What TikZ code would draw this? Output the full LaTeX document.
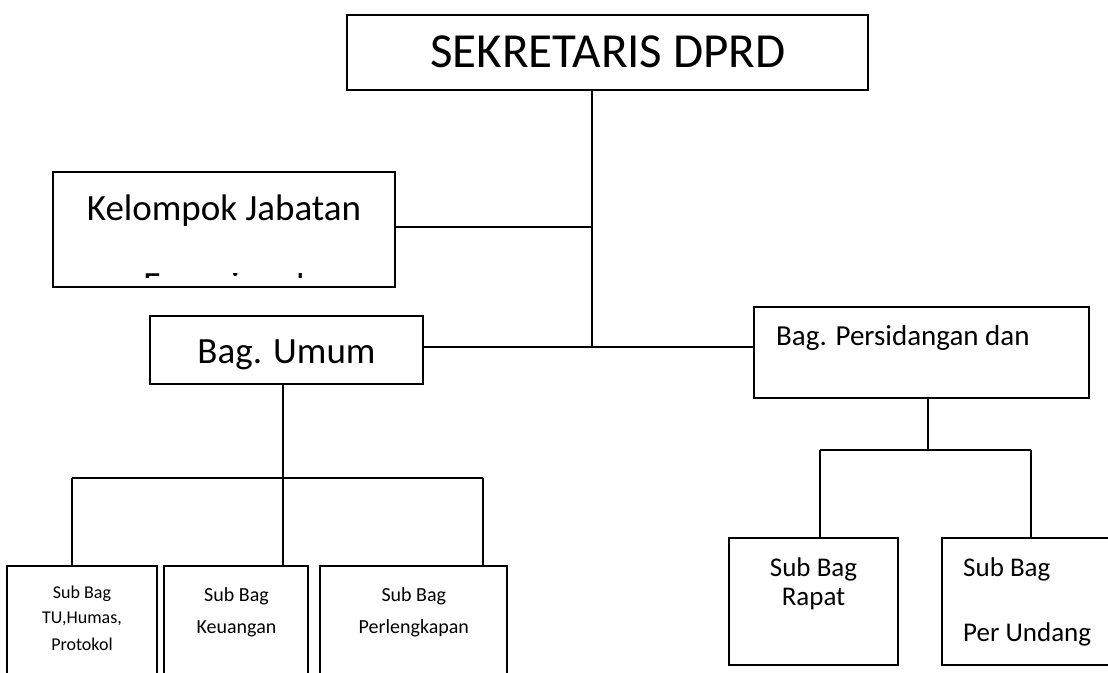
\documentclass[tikz,border=0pt]{standalone}
\usepackage{fontspec}
\setmainfont{Carlito}
\tikzset{
  box/.style={draw=black, line width=1.8pt, inner sep=0pt, fill=none},
  conn/.style={draw=black, line width=1.4pt},
  txt/.style={inner sep=0pt, anchor=base, text=black},
}
\newcommand{\fsz}[1]{\fontsize{#1}{#1}\selectfont}
\begin{document}
\begin{tikzpicture}[x=1pt, y=-1pt]
\useasboundingbox (0,0) rectangle (1108,672);
\fill[white] (0,0) rectangle (1108,672);
\clip (0,0) rectangle (1108,672);
% boxes
\node[box, minimum width=521pt, minimum height=75pt] (sek) at (607.5,52.5) {};
\node[box, minimum width=342pt, minimum height=115pt] (kel) at (224,229.5) {};
\node[box, minimum width=273pt, minimum height=68pt] (umum) at (286.5,350) {};
\node[box, minimum width=335pt, minimum height=91pt] (pers) at (921.5,352.5) {};
\node[box, minimum width=150pt, minimum height=120pt] (tu) at (82,626) {};
\node[box, minimum width=144pt, minimum height=120pt] (keu) at (236,626) {};
\node[box, minimum width=187pt, minimum height=120pt] (perl) at (413.5,626) {};
\node[box, minimum width=169pt, minimum height=127pt] (rapat) at (813.5,601.5) {};
\node[box, minimum width=200pt, minimum height=127pt] (undang) at (1042,601.5) {};
% texts
\node[txt, font=\fsz{49}] (tsek) at (608,67) {SEKRETARIS DPRD};
\node[txt, font=\fsz{37}] (tkel) at (224,220) {Kelompok Jabatan};
\begin{scope}
\clip (53,273.2) rectangle (395,277.5);
\node[txt, font=\fsz{37}] (tkel2) at (224,297.6) {Fungsional};
\end{scope}
\node[txt, font=\fsz{37}] (tumum) at (286.5,363.3) {Bag. Umum};
\node[txt, anchor=base west, font=\fsz{29}] (tpers) at (776,345) {Bag. Persidangan dan};
\node[txt, font=\fsz{18}] (ttu1) at (82,598.5) {Sub Bag};
\node[txt, font=\fsz{18}] (ttu2) at (82,623.5) {TU,Humas,};
\node[txt, font=\fsz{18}] (ttu3) at (82,650) {Protokol};
\node[txt, font=\fsz{20}] (tkeu1) at (236.5,601) {Sub Bag};
\node[txt, font=\fsz{20}] (tkeu2) at (236.5,633) {Keuangan};
\node[txt, font=\fsz{20}] (tperl1) at (413.8,601) {Sub Bag};
\node[txt, font=\fsz{20}] (tperl2) at (413.8,633) {Perlengkapan};
\node[txt, font=\fsz{27}] (trap1) at (813.5,576.7) {Sub Bag};
\node[txt, font=\fsz{27}] (trap2) at (813.5,605) {Rapat};
\node[txt, anchor=base west, font=\fsz{27}] (tund1) at (963,576) {Sub Bag};
\node[txt, anchor=base west, font=\fsz{27}] (tund2) at (963,641) {Per Undang};
% junctions
\coordinate (j1) at (592,227);
\coordinate (j2) at (592,347);
\coordinate (u1) at (283,478);
\coordinate (u1l) at (72,478);
\coordinate (u1r) at (483,478);
\coordinate (p1) at (928,450);
\coordinate (p1l) at (820,450);
\coordinate (p1r) at (1031,450);
% connectors
\draw[conn] (sek.south -| j1) -- (j2);
\draw[conn] (kel.east |- j1) -- (j1);
\draw[conn] (umum.east |- j2) -- (pers.west |- j2);
\draw[conn] (umum.south -| u1) -- (u1);
\draw[conn] (u1l) -- (u1r);
\draw[conn] (u1l) -- (tu.north -| u1l);
\draw[conn] (u1) -- (keu.north -| u1);
\draw[conn] (u1r) -- (perl.north -| u1r);
\draw[conn] (pers.south -| p1) -- (p1);
\draw[conn] (p1l) -- (p1r);
\draw[conn] (p1l) -- (rapat.north -| p1l);
\draw[conn] (p1r) -- (undang.north -| p1r);
\end{tikzpicture}
\end{document}
